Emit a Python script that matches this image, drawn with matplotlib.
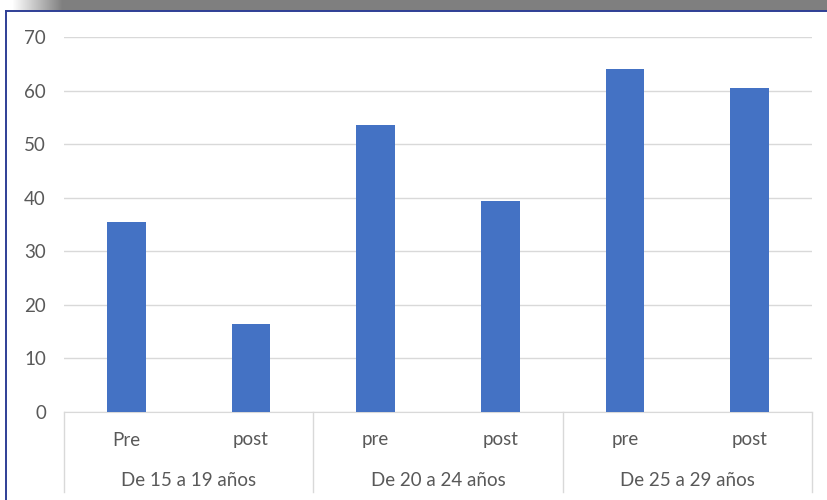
import numpy as np
import matplotlib
matplotlib.use("Agg")
import matplotlib.pyplot as plt
from matplotlib.lines import Line2D
from matplotlib.transforms import blended_transform_factory

plt.rcParams['font.family'] = ['Lato', 'DejaVu Sans']

# ─── Data ───
groups = ["De 15 a 19 años", "De 20 a 24 años", "De 25 a 29 años"]
phases = ["Pre", "post", "pre", "post", "pre", "post"]
values = [35.4, 16.5, 53.6, 39.4, 64.0, 60.5]

W, H = 828, 500
fig = plt.figure(figsize=(W / 100, H / 100), dpi=100)
fig.patch.set_facecolor("white")

# shadow band across the top, fading in from the left
band = fig.add_axes([0, 1 - 11 / H, 1, 11 / H])
band.set_axis_off()
x = np.linspace(0, 1, W)
alpha = np.clip((x * W - 12) / 50, 0, 1)
rgba = np.zeros((1, W, 4))
rgba[..., :3] = 0.5
rgba[..., 3] = alpha
band.imshow(rgba, aspect="auto", extent=[0, 1, 0, 1])
band.set_xlim(0, 1)
band.set_ylim(0, 1)

# frame of the chart box
border = "#2f3f96"
fig.add_artist(Line2D([6 / W, 6 / W], [0, 1 - 11 / H], color=border, lw=1.4,
                      transform=fig.transFigure))
fig.add_artist(Line2D([6 / W, 1], [1 - 11 / H, 1 - 11 / H], color=border, lw=1.4,
                      transform=fig.transFigure))

left, right, bottom, top = 64, 812, 412, 37
ax = fig.add_axes([left / W, 1 - bottom / H, (right - left) / W, (bottom - top) / H])

pos = np.arange(len(values))
ax.bar(pos, values, width=0.31, color="#4472c4", zorder=3)
ax.set_xlim(-0.5, len(values) - 0.5)
ax.set_ylim(0, 70)
ax.set_yticks(range(0, 71, 10))
ax.grid(axis="y", color="#d9d9d9", lw=1, zorder=0)
for s in ["top", "right", "left"]:
    ax.spines[s].set_visible(False)
ax.spines["bottom"].set_color("#d9d9d9")
ax.tick_params(axis="y", length=0, pad=13, labelsize=13.5, labelcolor="#595959")
ax.set_xticks([])

# two-level category axis
tr = blended_transform_factory(ax.transData, ax.transAxes)
px = (bottom - top)
for i, lab in enumerate(phases):
    ax.text(i, -28 / px, lab, transform=tr, ha="center", va="center",
            fontsize=13.5, color="#595959")
for g, lab in enumerate(groups):
    ax.text(2 * g + 0.5, -68 / px, lab, transform=tr, ha="center", va="center",
            fontsize=13.5, color="#595959")
for b in [-0.5, 1.5, 3.5, 5.5]:
    ax.add_line(Line2D([b, b], [0, -80 / px], transform=tr, color="#d9d9d9",
                       lw=1, clip_on=False))

fig.savefig("out.png", dpi=100, facecolor="white")
